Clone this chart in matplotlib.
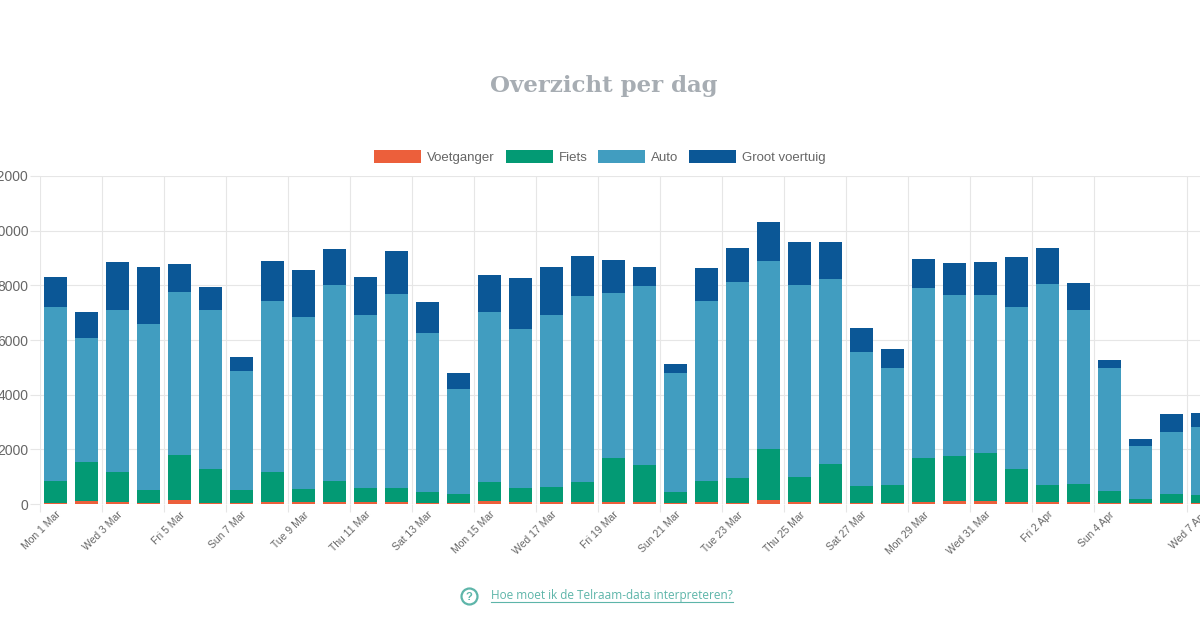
import matplotlib
matplotlib.use("Agg")
import matplotlib.pyplot as plt
import numpy as np
from matplotlib.lines import Line2D

# day labels (1 Mar - 7 Apr)
days = ["Mon 1 Mar", "Tue 2 Mar", "Wed 3 Mar", "Thu 4 Mar", "Fri 5 Mar", "Sat 6 Mar",
        "Sun 7 Mar", "Mon 8 Mar", "Tue 9 Mar", "Wed 10 Mar", "Thu 11 Mar", "Fri 12 Mar",
        "Sat 13 Mar", "Sun 14 Mar", "Mon 15 Mar", "Tue 16 Mar", "Wed 17 Mar", "Thu 18 Mar",
        "Fri 19 Mar", "Sat 20 Mar", "Sun 21 Mar", "Mon 22 Mar", "Tue 23 Mar", "Wed 24 Mar",
        "Thu 25 Mar", "Fri 26 Mar", "Sat 27 Mar", "Sun 28 Mar", "Mon 29 Mar", "Tue 30 Mar",
        "Wed 31 Mar", "Thu 1 Apr", "Fri 2 Apr", "Sat 3 Apr", "Sun 4 Apr", "Mon 5 Apr",
        "Tue 6 Apr", "Wed 7 Apr"]

voetganger = [30, 110, 80, 40, 150, 40, 40, 60, 70, 70, 60, 60, 50, 40, 110, 60, 70, 60,
              70, 90, 40, 60, 50, 160, 60, 50, 40, 40, 90, 100, 100, 60, 60, 60, 40, 30,
              50, 50]
fiets = [820, 1430, 1075, 470, 1640, 1225, 470, 1095, 490, 770, 510, 510, 400, 325, 680,
         510, 540, 730, 1595, 1335, 400, 780, 885, 1845, 925, 1410, 630, 655, 1575, 1640,
         1750, 1205, 635, 670, 445, 165, 315, 280]
auto = [6350, 4520, 5960, 6080, 5980, 5850, 4355, 6275, 6275, 7175, 6350, 7115, 5810,
        3855, 6250, 5825, 6310, 6820, 6055, 6540, 4355, 6590, 7200, 6895, 7030, 6760,
        4875, 4270, 6250, 5920, 5790, 5935, 7355, 6360, 4485, 1920, 2260, 2470]
groot_voertuig = [1120, 950, 1725, 2090, 1020, 840, 510, 1445, 1725, 1315, 1400, 1555,
                  1130, 585, 1350, 1885, 1765, 1450, 1205, 715, 330, 1205, 1215, 1435,
                  1555, 1375, 900, 695, 1045, 1145, 1215, 1850, 1300, 1010, 305, 280,
                  680, 535]

series_names = ["Voetganger", "Fiets", "Auto", "Groot voertuig"]
series_colors = ["#ec5f3b", "#039a74", "#419dc0", "#0b5796"]
y_ticks = [0, 2000, 4000, 6000, 8000, 10000, 12000]

grid_col = "#e6e6e6"
text_col = "#666666"
link_col = "#5db5a9"

plt.rcParams['font.family'] = ['Liberation Sans', 'DejaVu Sans']

W, H = 1200, 630
fig = plt.figure(figsize=(W / 100, H / 100), dpi=100)
fig.patch.set_facecolor("white")

# plot area runs past the right edge, like the cropped screenshot
ax = fig.add_axes([40 / W, (H - 504) / H, 31 * len(days) / W, 328 / H])

x = np.arange(len(days))
bottom = np.zeros(len(days))
handles = []
for name, vals, col in zip(series_names, [voetganger, fiets, auto, groot_voertuig],
                           series_colors):
    b = ax.bar(x, vals, width=0.71, bottom=bottom, color=col, label=name,
               linewidth=0, zorder=2)
    bottom += np.array(vals)
    handles.append(b)

ax.set_xlim(-0.5, len(days) - 0.5)
ax.set_ylim(0, 12000)
for s in ax.spines.values():
    s.set_visible(False)

ax.set_yticks(y_ticks)
ax.set_yticklabels([str(v) for v in y_ticks])
ax.tick_params(axis='y', length=7.5, width=0.8, color=grid_col, labelsize=10,
               labelcolor=text_col, pad=1)
ax.yaxis.grid(True, color=grid_col, linewidth=0.8)

# every other day is labelled, the last one always shows (chart.js autoskip)
shown = list(range(0, len(days) - 2, 2)) + [len(days) - 1]
ax.set_xticks(shown)
ax.set_xticklabels([days[i] for i in shown], rotation=45, ha='right', va='top',
                   rotation_mode='anchor', fontsize=7.5, color=text_col)
ax.tick_params(axis='x', which='major', length=0, pad=4)
ax.set_xticks([i - 0.5 for i in shown], minor=True)
ax.tick_params(axis='x', which='minor', length=6, width=0.8, color=grid_col)
ax.xaxis.grid(True, which='minor', color=grid_col, linewidth=0.8)
ax.set_axisbelow(True)

fig.legend(handles, series_names, loc='center', bbox_to_anchor=(600 / W, 1 - 157 / H),
           ncol=4, frameon=False, fontsize=9.5, handlelength=3.56, handleheight=1.14,
           handletextpad=0.45, columnspacing=0.83, labelcolor=text_col)

fig.text(604 / W, 1 - 92 / H, "Overzicht per dag", ha='center', va='baseline',
         fontsize=16.5, fontweight='bold', family='DejaVu Serif', color='#a7adb3')

# help link with icon and underline
link = fig.text(491 / W, 1 - 599 / H, "Hoe moet ik de Telraam-data interpreteren?",
                ha='left', va='baseline', family='Open Sans', fontsize=8.5,
                color=link_col)
fig.add_artist(Line2D([469 / W], [1 - 595.5 / H], marker='o', markersize=11.5,
                      mfc='none', mec=link_col, mew=1.6, transform=fig.transFigure))
fig.text(469 / W, 1 - 596 / H, "?", ha='center', va='center_baseline', fontsize=8,
         fontweight='bold', color=link_col)

fig.canvas.draw()
bb = link.get_window_extent(fig.canvas.get_renderer())
yl = (H - 602) / H
fig.add_artist(Line2D([bb.x0 / W, bb.x1 / W], [yl, yl], color=link_col, linewidth=0.8,
                      transform=fig.transFigure))

fig.savefig("out.png", dpi=100, facecolor="white")
